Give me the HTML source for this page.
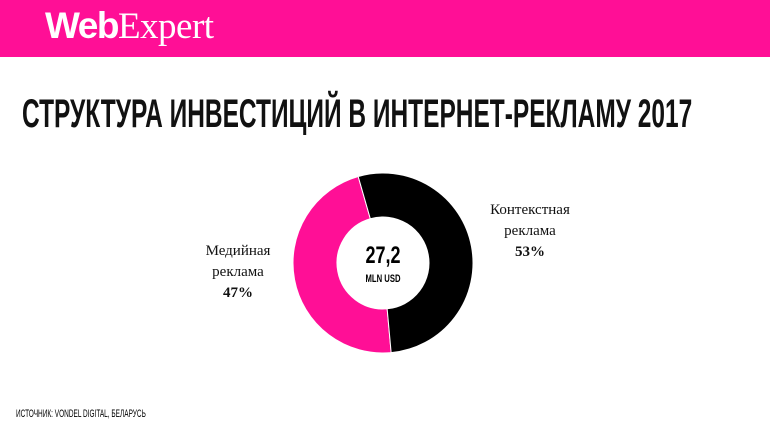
<!DOCTYPE html>
<html><head><meta charset="utf-8"><style>
body{margin:0;width:770px;height:433px;overflow:hidden;background:#fff;position:relative;font-family:"Liberation Sans",sans-serif}
#hdr{position:absolute;left:0;top:0;width:770px;height:57px;background:#ff0f96}
#logo{position:absolute;left:45px;top:5px;color:#fff;font-size:37px;letter-spacing:-1.5px;white-space:nowrap}
#title{position:absolute;left:22px;top:92px;font-size:40px;font-weight:bold;white-space:nowrap;transform-origin:0 0;transform:scaleX(0.612);color:#111}
.lbl{position:absolute;font-family:"Liberation Serif",serif;font-size:15px;text-align:center;line-height:21px;color:#111}
#src{position:absolute;left:16px;top:408px;font-size:11px;white-space:nowrap;transform-origin:0 0;transform:scaleX(0.59)}
</style></head><body>
<div id="hdr"><div id="logo"><b>Web</b><span style="font-family:'Liberation Serif',serif;letter-spacing:-0.5px">Expert</span></div></div>
<div id="title">СТРУКТУРА ИНВЕСТИЦИЙ В ИНТЕРНЕТ-РЕКЛАМУ 2017</div>
<svg id="chart" width="770" height="433" style="position:absolute;left:0;top:0">
<text x="383" y="263" text-anchor="middle" font-size="24" font-weight="bold" transform="translate(383 0) scale(0.75 1) translate(-383 0)">27,2</text>
<text x="383" y="282" text-anchor="middle" font-size="11" font-weight="bold" transform="translate(383 0) scale(0.7 1) translate(-383 0)">MLN USD</text>
</svg>
<div class="lbl" style="left:470px;top:200px;width:120px">Контекстная<br>реклама<br><b>53%</b></div>
<div class="lbl" style="left:178px;top:241px;width:120px">Медийная<br>реклама<br><b>47%</b></div>
<div id="src">ИСТОЧНИК: VONDEL DIGITAL, БЕЛАРУСЬ</div>
<script>
const categories=["Контекстная реклама","Медийная реклама"];
const values=[53,47];
const colors=["#000000","#ff0f96"];
const svg=document.getElementById('chart');
const cx=383,cy=263,R=90,r=46,start=-16;
const tot=values.reduce((a,b)=>a+b,0);
let a0=start;
function pt(rad,deg){const t=deg*Math.PI/180;return [cx+rad*Math.sin(t),cy-rad*Math.cos(t)];}
values.forEach((v,i)=>{
 const a1=a0+v/tot*360;const lg=(a1-a0)>180?1:0;
 const p1=pt(R,a0),p2=pt(R,a1),p3=pt(r,a1),p4=pt(r,a0);
 const p=document.createElementNS('http://www.w3.org/2000/svg','path');
 p.setAttribute('d',`M${p1[0]},${p1[1]}A${R},${R} 0 ${lg} 1 ${p2[0]},${p2[1]}L${p3[0]},${p3[1]}A${r},${r} 0 ${lg} 0 ${p4[0]},${p4[1]}Z`);
 p.setAttribute('fill',colors[i]);p.setAttribute('stroke','#fff');p.setAttribute('stroke-width','1');
 
 
 svg.insertBefore(p,svg.firstChild);
 a0=a1;
});
</script>
</body></html>
